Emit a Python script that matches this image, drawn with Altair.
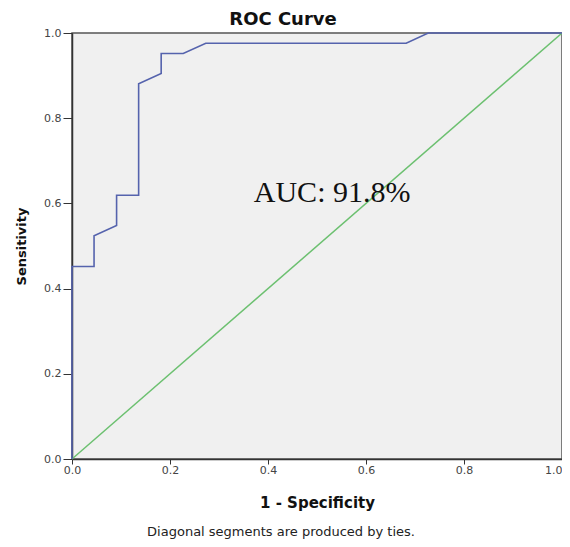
import altair as alt
import pandas as pd

# ROC curve points
fpr = [0.0, 0.0, 0.045, 0.045, 0.091, 0.091, 0.136, 0.136, 0.182, 0.182, 0.227, 0.273, 0.682, 0.727, 1.0]
tpr = [0.0, 0.452, 0.452, 0.524, 0.548, 0.619, 0.619, 0.881, 0.905, 0.952, 0.952, 0.976, 0.976, 1.0, 1.0]
ref_x = [0.0, 1.0]
ref_y = [0.0, 1.0]
ticks = [0.0, 0.2, 0.4, 0.6, 0.8, 1.0]
auc_label = ["AUC: 91.8%"]
auc_pos_x = [0.371]
auc_pos_y = [0.604]
chart_title = ["ROC Curve"]
x_title = "1 - Specificity"
y_title = "Sensitivity"
footnote = ["Diagonal segments are produced by ties."]

roc = pd.DataFrame({"fpr": fpr, "tpr": tpr, "order": list(range(len(fpr)))})
ref = pd.DataFrame({"fpr": ref_x, "tpr": ref_y, "order": [0, 1]})
auc = pd.DataFrame({"x": auc_pos_x, "y": auc_pos_y, "label": auc_label})
note = pd.DataFrame({"label": footnote})
ttl = pd.DataFrame({"label": chart_title})

W, H = 490, 426

xscale = alt.Scale(domain=[0, 1], nice=False, zero=False)
yscale = alt.Scale(domain=[0, 1], nice=False, zero=False)

xaxis = alt.Axis(
    values=ticks, format=".1f", title=x_title, grid=False,
    labelFlush=False, labelOverlap=False, labelBound=False,
    labelAlign=alt.ExprRef(expr="datum.value >= 1 ? 'right' : 'center'"),
    tickSize=5, labelPadding=0, labelFontSize=11, labelColor="#444444",
    labelFont="DejaVu Sans",
    domainColor="#333333", domainWidth=1.5, tickColor="#333333", tickWidth=1,
    titleFont="DejaVu Sans", titleFontSize=15, titleFontWeight="bold", titleColor="#111111",
    titleX=W / 2, titleY=43, titleBaseline="middle", titleAlign="center",
)
yaxis = alt.Axis(
    values=ticks, format=".1f", title=y_title, grid=False,
    labelFlush=False, labelOverlap=False, labelBound=False,
    tickSize=9, labelPadding=2, labelFontSize=11, labelColor="#444444",
    labelFont="DejaVu Sans",
    domainColor="#333333", domainWidth=1.5, tickColor="#333333", tickWidth=1,
    titleFont="DejaVu Sans", titleFontSize=13, titleFontWeight="bold", titleColor="#111111",
    titleX=-51, titleY=H / 2, titleBaseline="middle", titleAlign="center", titleAngle=270,
)

diag = alt.Chart(ref).mark_line(color="#6cc070", strokeWidth=1.5).encode(
    x=alt.X("fpr:Q", scale=xscale, axis=xaxis),
    y=alt.Y("tpr:Q", scale=yscale, axis=yaxis),
    order="order:Q",
)
curve = alt.Chart(roc).mark_line(color="#5563ad", strokeWidth=1.6).encode(
    x=alt.X("fpr:Q", scale=xscale),
    y=alt.Y("tpr:Q", scale=yscale),
    order="order:Q",
)
auc_text = alt.Chart(auc).mark_text(
    font="Liberation Serif", fontSize=30, color="#111111", align="left", baseline="alphabetic"
).encode(
    x=alt.X("x:Q", scale=xscale),
    y=alt.Y("y:Q", scale=yscale),
    text="label:N",
)
note_text = alt.Chart(note).mark_text(
    font="DejaVu Sans", fontSize=13, color="#222222", align="center", baseline="alphabetic"
).encode(
    x=alt.value(209),
    y=alt.value(503),
    text="label:N",
)
title_text = alt.Chart(ttl).mark_text(
    font="DejaVu Sans", fontSize=18, fontWeight="bold", color="#111111",
    align="center", baseline="alphabetic"
).encode(
    x=alt.value(211),
    y=alt.value(-8),
    text="label:N",
)

chart = (
    alt.layer(diag, curve, auc_text, note_text, title_text)
    .properties(
        width=W,
        height=H,
        autosize=alt.AutoSizeParams(type="none"),
        padding={"left": 64, "top": 25, "right": 0, "bottom": 80},
        background="white",
    )
    .configure_view(stroke="#555555", strokeWidth=1.5, fill="#F0F0F0")
)

chart.save("out.html", embed_options={"renderer": "svg", "actions": False})
